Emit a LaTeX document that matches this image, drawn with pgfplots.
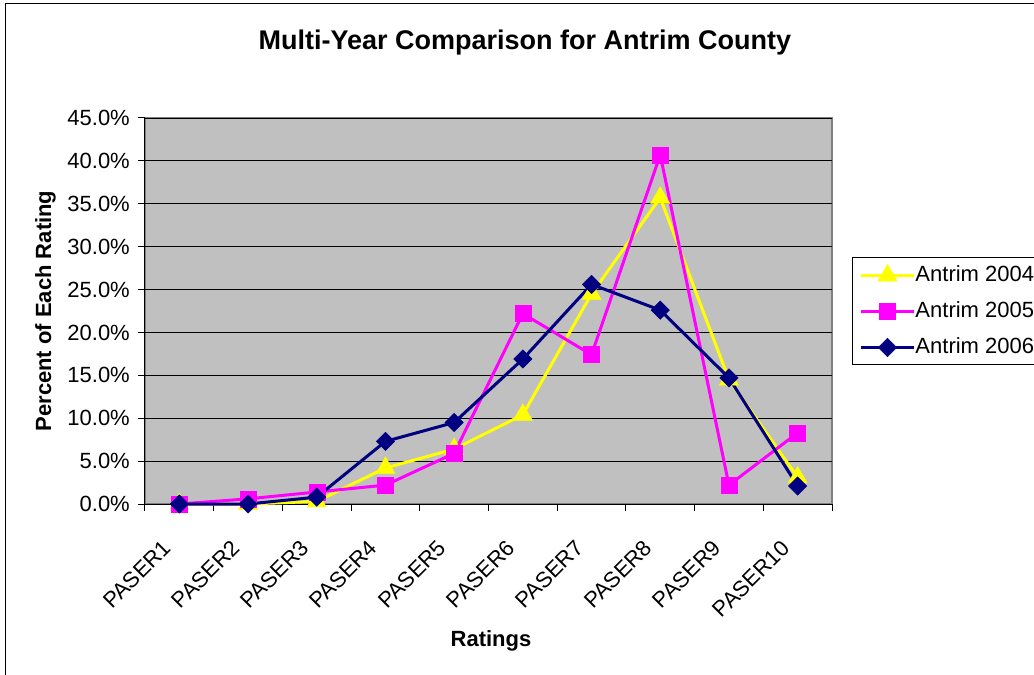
\documentclass[border=0pt]{standalone}
\usepackage{pgfplots}
\pgfplotsset{compat=1.18}
\usepackage{fontspec}
\setmainfont{Liberation Sans}
\definecolor{plotbg}{HTML}{C0C0C0}
\definecolor{bordergray}{HTML}{808080}
\definecolor{yel}{HTML}{FFFF00}
\definecolor{mag}{HTML}{FF00FF}
\definecolor{nav}{HTML}{000080}
\begin{document}
\begin{tikzpicture}[x=1pt,y=1pt]
\path[use as bounding box] (0,0) rectangle (1034,675);
\clip (0,0) rectangle (1034,675);
\fill[white] (0,0) rectangle (1034,675);
\draw[line width=1pt] (5.5,-10) -- (5.5,671.5) -- (1050,671.5);
\begin{axis}[
  at={(145pt,171pt)}, anchor=south west,
  scale only axis, width=687pt, height=386pt,
  xmin=0.5, xmax=10.5, ymin=0, ymax=45,
  clip=false,
  axis lines=left, axis line style={-, black, line width=1pt},
  axis background/.style={fill=plotbg, draw=bordergray, line width=1.5pt},
  ytick={0,5,...,45},
  ymajorgrids, grid style={black, line width=0.8pt},
  /pgf/number format/assume math mode=true,
  yticklabel={\pgfmathprintnumber[fixed,fixed zerofill,precision=1]{\tick}\%},
  xtick={1,...,10},
  xticklabels={PASER1,PASER2,PASER3,PASER4,PASER5,PASER6,PASER7,PASER8,PASER9,PASER10},
  minor xtick={0.5,1.5,...,10.5},
  tick align=outside,
  major tick length=7pt, minor tick length=7pt,
  every major x tick/.append style={draw=none},
  every minor x tick/.append style={black, line width=1pt},
  ytick style={black, line width=1pt},
  tick label style={font=\fontsize{22}{26}\selectfont},
  yticklabel style={anchor=east, inner sep=0pt, xshift=-8pt},
  xticklabel style={rotate=45, anchor=north east, inner sep=0pt, xshift=-32pt, yshift=-7pt},
  title={Multi-Year Comparison for Antrim County},
  title style={font=\bfseries\fontsize{27}{32}\selectfont, at={(axis description cs:0.553,1.162)}, anchor=base},
  xlabel={Ratings},
  xlabel style={font=\bfseries\fontsize{22}{26}\selectfont, at={(axis description cs:0.5036,-0.369)}, anchor=base},
  ylabel={Percent of Each Rating},
  ylabel style={font=\bfseries\fontsize{22}{26}\selectfont, at={(axis description cs:-0.1368,0.5)}, anchor=base, rotate=0},
  legend style={at={(axis description cs:1.0291,0.5)}, anchor=west, draw=black, line width=1pt, fill=white,
    inner sep=7pt, row sep=16pt, font=\fontsize{22}{26}\selectfont,
    nodes={inner sep=0pt, text height=16pt, text depth=4pt},
    /tikz/every even column/.append style={column sep=3pt}},
  legend cell align=left,
  legend image code/.code={\draw[mark repeat=2,mark phase=2,#1] plot coordinates {(0pt,0pt) (26.5pt,0pt) (53pt,0pt)};},
]
\addplot[color=yel, line width=3pt, mark=triangle*, mark size=11pt, mark options={solid, fill=yel, draw=yel, line width=0.5pt}]
  coordinates {(1,0) (2,0) (3,0.3) (4,4.2) (5,6.4) (6,10.4) (7,24.5) (8,35.7) (9,14.5) (10,3.1)};
\addlegendentry{Antrim 2004}
\addplot[color=mag, line width=3pt, mark=square*, mark size=8pt, mark options={solid, fill=mag, draw=mag, line width=0.5pt}]
  coordinates {(1,0) (2,0.6) (3,1.4) (4,2.2) (5,5.9) (6,22.2) (7,17.4) (8,40.7) (9,2.2) (10,8.3)};
\addlegendentry{Antrim 2005}
\addplot[color=nav, line width=3pt, mark=square*, mark size=6.5pt, mark options={solid, rotate=45, fill=nav, draw=nav, line width=0.5pt}]
  coordinates {(1,0) (2,0) (3,0.8) (4,7.3) (5,9.5) (6,16.9) (7,25.6) (8,22.6) (9,14.7) (10,2.1)};
\addlegendentry{Antrim 2006}
\end{axis}
\end{tikzpicture}
\end{document}
